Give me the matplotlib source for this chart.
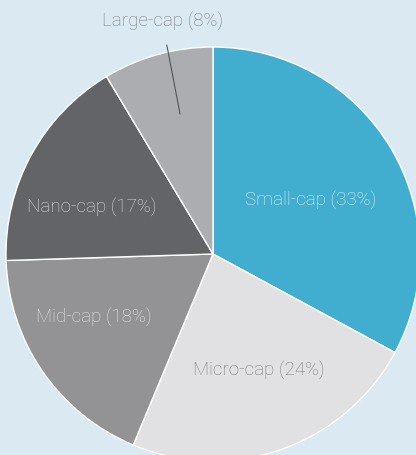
import numpy as np
import matplotlib.pyplot as plt

# Data
labels = ['Small-cap', 'Micro-cap', 'Mid-cap', 'Nano-cap', 'Large-cap']
pct_labels = ['33%', '24%', '18%', '17%', '8%']
shares = [32.9, 23.4, 18.2, 16.9, 8.6]   # as measured from slice angles
colors = ['#41aecf', '#e1e1e3', '#939396', '#636467', '#acadb0']
text_colors = ['#dff1f7', '#7c7c80', '#e6e6e8', '#dcdcde', '#7c7c80']

# label placement (radius fraction, angle shift in degrees)
label_dist = [0.54, 0.60, 0.65, 0.63]
label_shift = [-1.6, 2.3, -6.7, 7.2]

bg = '#dbe9f2'
fig = plt.figure(figsize=(4.16, 4.56), dpi=100, facecolor=bg)
ax = fig.add_axes([0, 0, 1, 1])
ax.set_facecolor(bg)

wedges, _ = ax.pie(shares, colors=colors, startangle=90, counterclock=False,
                   wedgeprops=dict(edgecolor='white', linewidth=1.0))

font = dict(fontsize=13.5, family='Roboto', fontweight='light')
for i, w in enumerate(wedges):
    txt = f'{labels[i]} ({pct_labels[i]})'
    if labels[i] == 'Large-cap':
        ax.annotate(txt, xy=(-0.159, 0.676), xytext=(-0.246, 1.128),
                    ha='center', va='center', color=text_colors[i], **font,
                    arrowprops=dict(arrowstyle='-', color='#555558', lw=0.8,
                                    shrinkA=9, shrinkB=0))
    else:
        ang = np.deg2rad((w.theta1 + w.theta2) / 2 + label_shift[i])
        d = label_dist[i]
        ax.text(d * np.cos(ang), d * np.sin(ang), txt, ha='center', va='center',
                color=text_colors[i], **font)

R = 207
ax.set_xlim(-213 / R, (416 - 213) / R)
ax.set_ylim(-(456 - 255) / R, 255 / R)
ax.set_aspect('auto')
ax.axis('off')

fig.savefig('out.png', dpi=100, facecolor=bg)
